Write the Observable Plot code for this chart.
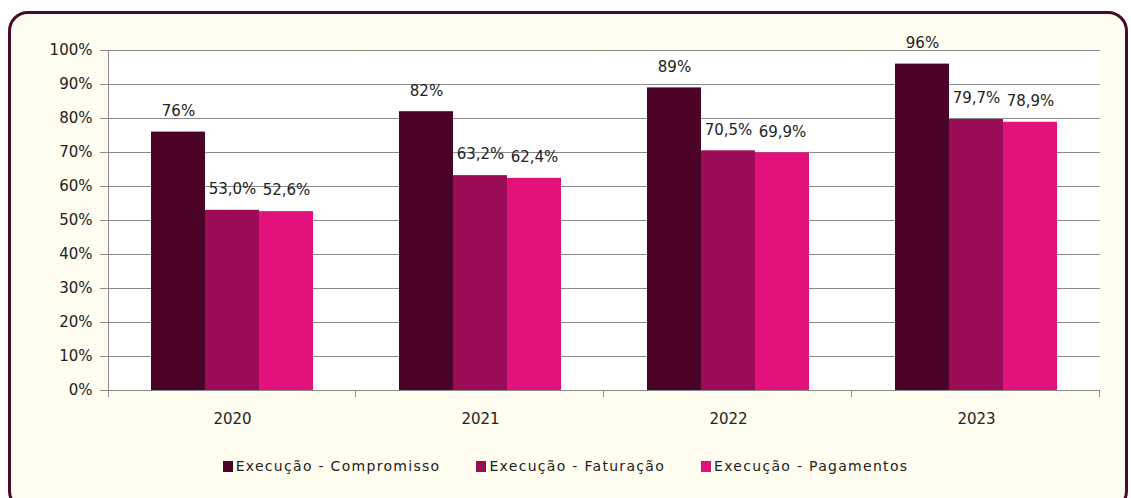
<!DOCTYPE html>
<html>
<head>
<meta charset="utf-8">
<script src="https://cdn.jsdelivr.net/npm/d3@7"></script>
<script src="https://cdn.jsdelivr.net/npm/@observablehq/plot@0.6"></script>
<style>
  html, body { margin: 0; padding: 0; background: #ffffff; }
  #wrap { position: relative; width: 1131px; height: 498px; overflow: hidden; font-family: "DejaVu Sans", sans-serif; }
  #frame { position: absolute; left: 8px; top: 11px; width: 1120px; height: 500px; border: 3px solid #4a0b2b; border-radius: 20px; background: #fffdef; box-sizing: border-box; }
  #chart { position: absolute; left: 0; top: 0; }
  #legend { position: absolute; left: 0; top: 458px; width: 1131px; display: flex; justify-content: center; gap: 36px; font-size: 14px; letter-spacing: 1.3px; color: #222; }
  .item { display: flex; align-items: center; gap: 3px; }
  .sw { width: 10px; height: 11px; display: inline-block; }
</style>
</head>
<body>
<div id="wrap">
  <div id="frame"></div>
  <div id="chart"></div>
  <div id="legend"></div>
</div>
<script>
const years = ["2020", "2021", "2022", "2023"];
const seriesNames = ["Execução - Compromisso", "Execução - Faturação", "Execução - Pagamentos"];
const seriesColors = ["#4a0327", "#9a0c55", "#e2117b"];
const compromisso = [76, 82, 89, 96];
const faturacao = [53.0, 63.2, 70.5, 79.7];
const pagamentos = [52.6, 62.4, 69.9, 78.9];
const yTicks = [0, 10, 20, 30, 40, 50, 60, 70, 80, 90, 100];

const seriesValues = [compromisso, faturacao, pagamentos];
const data = [];
years.forEach((yr, i) => {
  seriesNames.forEach((s, j) => {
    const v = seriesValues[j][i];
    data.push({
      year: yr, series: s, value: v,
      label: j === 0 ? `${Math.round(v)}%` : `${v.toFixed(1).replace(".", ",")}%`
    });
  });
});

const W = 1131, H = 440;
const chart = Plot.plot({
  width: W,
  height: H,
  marginLeft: 108,
  marginRight: 31,
  marginTop: 50,
  marginBottom: 50,
  style: { background: "transparent", fontFamily: "DejaVu Sans, sans-serif", fontSize: "15px", color: "#222" },
  fx: { domain: years, padding: 0, label: null },
  x: { domain: seriesNames, paddingInner: 0, paddingOuter: 0.755, axis: null },
  y: { domain: [0, 100], label: null },
  color: { domain: seriesNames, range: seriesColors },
  marks: [
    Plot.frame({ fill: "white", stroke: "none" }),
    Plot.ruleY(yTicks, { stroke: "#8a8a8a", strokeWidth: 1 }),
    Plot.barY(data, { fx: "year", x: "series", y: "value", fill: "series", inset: 0 }),
    Plot.text(data, { fx: "year", x: "series", y: "value", text: "label", dy: -21, fontSize: 15, fill: "#222" }),
    Plot.axisY({ ticks: yTicks, tickFormat: d => d + "%", tickSize: 8, tickPadding: 8, stroke: "#8a8a8a", fill: "#222", fontSize: 15, label: null }),
    Plot.axisFx({ anchor: "bottom", tickSize: 0, tickPadding: 23, fontSize: 15, fill: "#222", label: null, style: { letterSpacing: "1px" } })
  ]
});
document.getElementById("chart").appendChild(chart);

// Excel-style axis line and category boundary ticks, positioned through Plot's scales
const fx = chart.scale("fx"), y = chart.scale("y");
const svg = d3.select(chart);
const y0 = y.apply(0), y100 = y.apply(100);
const x0 = fx.apply(years[0]);
const g = svg.append("g").attr("stroke", "#8a8a8a").attr("stroke-width", 1);
g.append("line").attr("x1", x0 + 0.5).attr("x2", x0 + 0.5).attr("y1", y100).attr("y2", y0 + 7);
years.forEach(yr => {
  const xe = fx.apply(yr) + fx.bandwidth;
  g.append("line").attr("x1", xe - 0.5).attr("x2", xe - 0.5).attr("y1", y0).attr("y2", y0 + 7);
});

const legend = document.getElementById("legend");
seriesNames.forEach((s, j) => {
  const it = document.createElement("div");
  it.className = "item";
  it.innerHTML = `<span class="sw" style="background:${seriesColors[j]}"></span><span>${s}</span>`;
  legend.appendChild(it);
});
</script>
</body>
</html>
